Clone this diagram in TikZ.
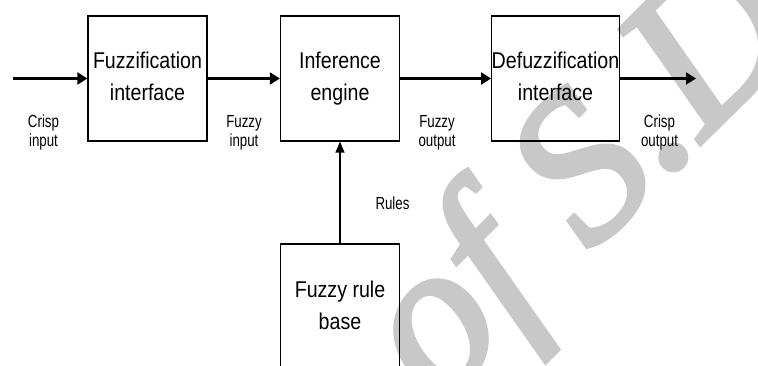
\documentclass[tikz,border=0pt]{standalone}
\usepackage{fontspec}
\setmainfont{Liberation Sans}
\newfontfamily\boxfont[FakeStretch=0.86]{Liberation Sans}
\newfontfamily\tagfont[FakeStretch=0.76]{Liberation Sans}
\newfontfamily\markfont[FakeBold=2.5]{Liberation Serif Italic}
\usetikzlibrary{arrows.meta}
\definecolor{markgray}{RGB}{200,200,200}

\tikzset{
  block/.style={draw, line width=1.3pt, minimum width=119pt, inner sep=0pt,
    align=center, text depth=4.8pt, font=\boxfont\fontsize{22.8}{31.5}\selectfont},
  tag/.style={align=center, inner sep=0pt, font=\tagfont\fontsize{17.5}{19.4}\selectfont},
  flow/.style={line width=2.2pt, -{Triangle[length=10pt, width=12pt]}},
  feed/.style={line width=1.4pt, -{Triangle[length=11pt, width=9pt]}},
  stamp/.style={text=markgray, inner sep=0pt, rotate=45,
    font=\markfont\fontsize{210}{210}\selectfont}
}

\begin{document}
\begin{tikzpicture}[x=1pt, y=-1pt]
  \useasboundingbox (0,0) rectangle (758,365);
  \clip (0,0) rectangle (758,365);

  % background stamp
  \node[stamp, anchor=base west] (stampmark) at (438,406) {of S.D};

  % processing blocks
  \node[block, minimum height=125pt] (fuzz) at (147.5,78.5) {Fuzzification\\interface};
  \node[block, minimum height=125pt] (infer) at (340,78.5) {Inference\\engine};
  \node[block, minimum height=125pt] (defuzz) at (555.5,78.5) {Defuzzification\\interface};
  \node[block, minimum height=127pt] (rules) at (340,307.5) {Fuzzy rule\\base};

  % free ends of the signal line
  \coordinate (in) at (13,78.5);
  \coordinate (out) at (696,78.5);

  % connectors
  \draw[flow] (in) -- (fuzz.west);
  \draw[flow] (fuzz.east) -- (infer.west);
  \draw[flow] (infer.east) -- (defuzz.west);
  \draw[flow] (defuzz.east) -- (out);
  \draw[feed] (rules.north) -- (infer.south);

  % signal labels
  \node[tag] (crispin) at (43.5,132.7) {Crisp\\input};
  \node[tag] (fuzzyin) at (244,132.7) {Fuzzy\\input};
  \node[tag] (fuzzyout) at (437,132.7) {Fuzzy\\output};
  \node[tag] (crispout) at (659.5,132.7) {Crisp\\output};
  \node[tag, anchor=base] (rulestag) at (392.5,209) {Rules};
\end{tikzpicture}
\end{document}
